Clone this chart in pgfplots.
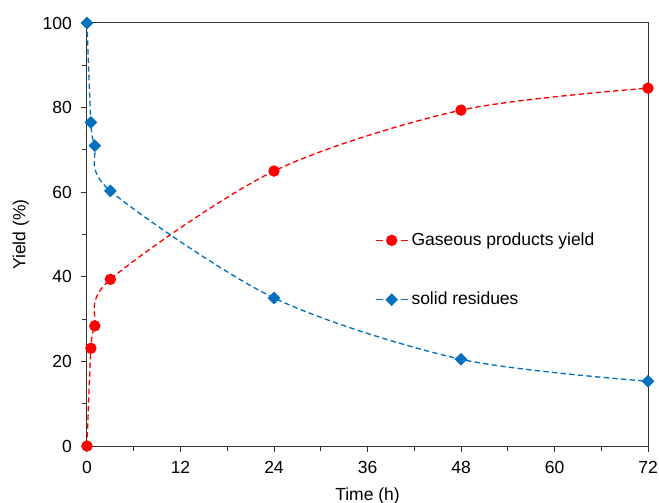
\documentclass[border=0pt]{standalone}
\usepackage{pgfplots}
\pgfplotsset{compat=1.18}
\usepackage{fontspec}
\setmainfont{Liberation Sans}
\definecolor{xred}{RGB}{255,0,0}
\definecolor{xblue}{RGB}{0,112,192}
\begin{document}
\begin{tikzpicture}
\useasboundingbox (-52.2pt,-34.2pt) rectangle (343.2pt,267.6pt);
\begin{axis}[
  at={(0,0)}, anchor=south west,
  scale only axis,
  width=336.6pt, height=253.8pt,
  xmin=0, xmax=72, ymin=0, ymax=100,
  xtick={0,12,...,72}, ytick={0,20,...,100},
  minor xtick={6,18,...,66}, minor ytick={10,30,...,90},
  tick pos=left, tick align=outside,
  major tick length=3.6pt, minor tick length=3pt,
  axis line style={black!80, line width=0.6pt},
  every tick/.style={black!80, line width=0.6pt},
  tick label style={font=\fontsize{10.5}{12}\selectfont},
  label style={font=\fontsize{10.5}{12}\selectfont},
  xlabel={Time (h)}, ylabel={Yield (\%)},
  xlabel style={at={(axis description cs:0.5,0)}, anchor=north, yshift=-21.5pt},
  ylabel style={at={(axis description cs:-0.118,0.5)}, anchor=center},
  xticklabel style={yshift=-2pt},
  yticklabel style={xshift=-2pt},
  /pgf/number format/assume math mode=true,
  clip=false,
  legend cell align=left,
  legend style={draw=none, fill=none, at={(axis cs:36.3,41.6)}, anchor=west,
    row sep=22.5pt, font=\fontsize{10.5}{12}\selectfont,
    /tikz/every odd column/.append style={column sep=0pt}},
  legend image code/.code={
    \draw[#1, solid] (0pt,0pt) -- (4pt,0pt) (15pt,0pt) -- (19pt,0pt);
    \draw[#1, solid] plot coordinates {(9.5pt,0pt)};
  },
]
\addplot[xred, dashed, dash pattern=on 3.2pt off 2pt, line width=0.8pt, smooth, tension=0.5,
  mark=*, mark size=3pt, mark options={solid, fill=xred}]
  coordinates {(0,0) (0.5,23.1) (1,28.4) (3,39.4) (24,65) (48,79.4) (72,84.6)};
\addlegendentry{Gaseous products yield}
\addplot[xblue, dashed, dash pattern=on 3.2pt off 2pt, line width=0.8pt, smooth, tension=0.5,
  mark=square*, mark size=2.3pt, mark options={solid, fill=xblue, rotate=45}]
  coordinates {(0,100) (0.5,76.5) (1,71) (3,60.3) (24,35) (48,20.5) (72,15.3)};
\addlegendentry{solid residues}
\end{axis}
\end{tikzpicture}
\end{document}
